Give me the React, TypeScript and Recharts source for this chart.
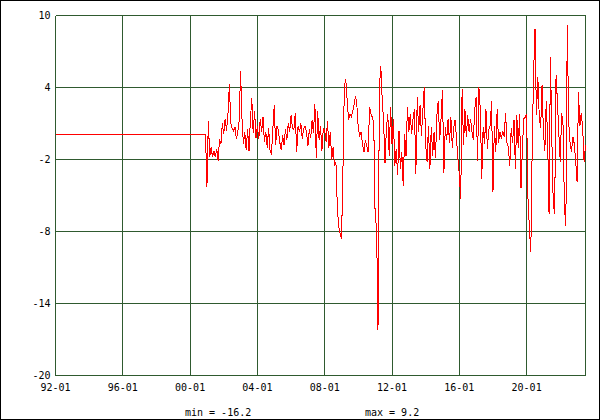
import React from "react"
import {
  LineChart,
  Line,
  XAxis,
  YAxis,
  CartesianGrid,
  ReferenceLine,
} from "recharts"

// x is counted in months from 92-01
const monthTicks = [0, 48, 96, 144, 192, 240, 288, 336]
const monthLabels = ["92-01", "96-01", "00-01", "04-01", "08-01", "12-01", "16-01", "20-01"]
const valueTicks = [-20, -14, -8, -2, 4, 10]
const lastMonth = 378

// flat stretch before the monthly data begins
const flatMonth = 0
const flatValue = 0.1

// monthly values, 00-12 .. 23-07
const firstMonth = 107
const y2000 = [0.1]
const y2001 = [-4.3, 1.2, -1.8, -1.0, -1.8, -1.3, -1.8, -1.1, -2.1, -0.3, -0.7, 1.0]
const y2002 = [0.1, 1.4, 0.4, 1.8, 4.3, 1.0, 0.6, 0.4, 0.7, -0.3, 0.3, 1.2]
const y2003 = [5.4, 1.4, -0.7, 0.3, -1.2, 0.5, -1.3, 1.3, 3.1, 0.2, 2.0, -0.2]
const y2004 = [0.8, -0.3, 1.4, 0.3, 1.5, -0.5, 0.3, -1.0, 0.6, -1.2, -1.6, 0.5]
const y2005 = [2.5, -0.8, 0.8, 0.4, -0.6, -1.2, 0.0, -0.8, 0.5, -0.4, 1.0, 0.3]
const y2006 = [1.7, 0.6, 0.5, 1.9, -1.4, 0.8, 0.3, 1.0, -0.3, 0.6, 0.8, 0.3]
const y2007 = [-0.9, 0.5, -0.2, 1.3, 0.2, 2.6, -1.9, 2.0, -0.4, 0.8, -1.3, 0.6]
const y2008 = [0.4, -0.5, 1.2, -1.0, 0.3, -2.0, -1.0, -2.5, -2.2, -6.0, -7.6, -8.2]
const y2009 = [-8.6, -3.0, 4.0, 4.7, 3.0, 1.3, 1.8, 1.6, 2.0, 2.6, 3.3, 2.4]
const y2010 = [0.5, 0.0, 0.3, -0.8, -1.4, -0.4, -0.9, -1.4, 2.4, 1.8, 1.5, 1.0]
const y2011 = [-7.0, -7.5, -16.2, 4.0, 5.8, 3.0, 1.2, -2.3, 0.6, 1.8, -1.7, 2.4]
const y2012 = [-0.7, 1.4, -2.5, -1.1, -3.3, 0.4, -2.8, -1.4, -4.2, 0.1, -1.7, 2.4]
const y2013 = [0.3, 1.8, 0.1, 1.4, 2.2, -3.2, 3.2, 0.3, 2.5, 0.0, 2.1, 4.0]
const y2014 = [-0.8, -2.2, 0.8, -2.8, 0.7, -1.7, 0.3, -1.9, 1.7, 2.9, -0.4, 1.5]
const y2015 = [3.8, -3.1, 0.7, -0.4, 1.4, -0.6, 1.5, -1.0, 0.6, 1.3, -0.3, -1.9]
const y2016 = [-3.2, -5.3, 3.9, -0.8, 2.2, -0.1, 1.7, 0.3, 1.4, 0.3, -0.4, 2.2]
const y2017 = [3.2, -2.1, 4.0, 2.1, -3.6, 0.7, -0.7, 2.2, -1.1, 0.5, 0.8, 2.9]
const y2018 = [-4.7, 0.8, -1.4, 2.2, -0.6, 0.3, -0.3, 0.4, -0.1, 1.9, -0.6, -1.0]
const y2019 = [-2.5, 0.6, -0.6, 1.3, -2.8, 1.7, -1.0, 1.8, -4.4, -1.1, 1.4, 1.5]
const y2020 = [1.8, -5.3, -7.8, -9.7, -0.8, 5.3, 8.9, 1.7, 4.9, 1.7, 0.6, 4.2]
const y2021 = [0.3, -1.3, 2.9, -0.3, -6.5, 6.5, -0.3, -5.7, -6.5, 5.0, 2.8, 0.1]
const y2022 = [-2.2, 1.9, 0.8, -6.0, -7.5, 9.2, 1.1, -0.6, -1.4, -0.1, -0.7, -2.1]
const y2023 = [-3.9, 3.6, 0.8, 1.9, 0.6, -2.2, -0.8]

const monthly = [
  ...y2000, ...y2001, ...y2002, ...y2003, ...y2004, ...y2005, ...y2006, ...y2007,
  ...y2008, ...y2009, ...y2010, ...y2011, ...y2012, ...y2013, ...y2014, ...y2015,
  ...y2016, ...y2017, ...y2018, ...y2019, ...y2020, ...y2021, ...y2022, ...y2023,
]

const data = [
  { month: flatMonth, value: flatValue },
  ...monthly.map((v, i) => ({ month: firstMonth + i, value: v })),
]

const minValue = Math.min(...monthly)
const maxValue = Math.max(...monthly)

const GRID = "#2f5a2f"
const FONT = "'DejaVu Sans Mono', monospace"
const tickStyle = { fill: "#000", fontSize: 10, fontFamily: FONT }

const App: React.FC = () => {
  return (
    <div style={{ position: "fixed", left: 0, top: 0, width: 600, height: 420, background: "#fff" }}>
      <style>{`
        .recharts-cartesian-grid line,
        .recharts-reference-line line,
        .recharts-line-curve { shape-rendering: crispEdges; }
      `}</style>
      <div style={{ position: "absolute", left: 0, top: 0 }}>
        <LineChart
          width={600}
          height={420}
          data={data}
          margin={{ top: 15.5, right: 14.5, bottom: 24.5, left: 0.5 }}
        >
          <CartesianGrid stroke={GRID} strokeWidth={1} fill="none" />
          <XAxis
            dataKey="month"
            type="number"
            domain={[0, lastMonth]}
            ticks={monthTicks}
            interval={0}
            tickFormatter={(m: number) => monthLabels[monthTicks.indexOf(m)]}
            axisLine={false}
            tickLine={false}
            height={20}
            tick={tickStyle}
          />
          <YAxis
            type="number"
            domain={[-20, 10]}
            ticks={valueTicks}
            interval={0}
            axisLine={false}
            tickLine={false}
            width={55}
            tickSize={3}
            tickMargin={2}
            tick={tickStyle}
          />
          <ReferenceLine x={lastMonth} stroke={GRID} strokeWidth={1} />
          <Line
            type="linear"
            dataKey="value"
            stroke="#ff0000"
            strokeWidth={1}
            dot={false}
            activeDot={false}
            isAnimationActive={false}
          />
        </LineChart>
      </div>
      <svg width={600} height={420} style={{ position: "absolute", left: 0, top: 0, pointerEvents: "none" }}>
        <text x={185} y={415.5} fontSize={10} fontFamily={FONT} fill="#000">
          {`min = ${minValue.toFixed(1)}`}
        </text>
        <text x={365} y={415.5} fontSize={10} fontFamily={FONT} fill="#000">
          {`max = ${maxValue.toFixed(1)}`}
        </text>
      </svg>
      <div
        style={{
          position: "absolute",
          left: 0,
          top: 0,
          width: 600,
          height: 420,
          boxSizing: "border-box",
          border: "1px solid #000",
          pointerEvents: "none",
        }}
      />
    </div>
  )
}

export default App
